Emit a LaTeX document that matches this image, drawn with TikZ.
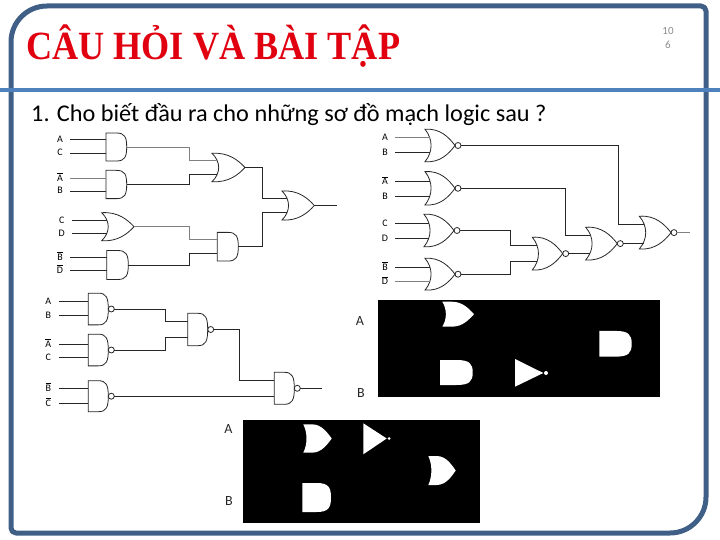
\documentclass[tikz,border=0pt]{standalone}
\usepackage{fontspec}
\setmainfont{Carlito}
\newfontfamily\titlefont{Liberation Serif}
\definecolor{framecol}{HTML}{3F5F87}
\definecolor{bandcol}{HTML}{4F81BD}
\definecolor{titlecol}{HTML}{E0000F}
\tikzset{
  pics/andg/.style 2 args={code={
    \path[pic actions] (0,-#2/2) -- (#1*.5,-#2/2) .. controls (#1*.9,-#2/2) and (#1,-#2*.36) .. (#1,0)
      .. controls (#1,#2*.36) and (#1*.9,#2/2) .. (#1*.5,#2/2) -- (0,#2/2) -- cycle;
    \coordinate (-i1) at (0,-#2/4);
    \coordinate (-i2) at (0,#2/4);
    \coordinate (-o) at (#1,0);
  }},
  pics/org/.style 2 args={code={
    \path[pic actions] (0,-#2/2) .. controls (#1*.5,-#2*.54) and (#1*.8,-#2*.25) .. (#1,0)
      .. controls (#1*.8,#2*.25) and (#1*.5,#2*.54) .. (0,#2/2)
      .. controls (#1*.27,#2*.2) and (#1*.27,-#2*.2) .. cycle;
    \coordinate (-i1) at (#1*.15,-#2/4);
    \coordinate (-i2) at (#1*.15,#2/4);
    \coordinate (-o) at (#1,0);
  }},
  pics/orblob/.style 2 args={code={
    \path[pic actions] (0,-#2/2) -- (#1*.3,-#2/2) .. controls (#1*.65,-#2/2) and (#1*.85,-#2*.2) .. (#1,0)
      .. controls (#1*.85,#2*.2) and (#1*.65,#2/2) .. (#1*.3,#2/2) -- (0,#2/2)
      .. controls (#1*.15,#2*.2) and (#1*.15,-#2*.2) .. cycle;
    \coordinate (-o) at (#1,0);
  }},
  pics/nandg/.style 2 args={code={
    \pic[gate] (-b) at (0,0) {andg={#1}{#2}};
    \draw[gate] (#1+3,0) circle (3);
    \coordinate (-i1) at (0,-#2/4);
    \coordinate (-i2) at (0,#2/4);
    \coordinate (-o) at (#1+6,0);
  }},
  pics/norg/.style 2 args={code={
    \pic[gate] (-b) at (0,0) {org={#1}{#2}};
    \draw[gate] (#1+3,0) circle (3);
    \coordinate (-i1) at (#1*.15,-#2/4);
    \coordinate (-i2) at (#1*.15,#2/4);
    \coordinate (-o) at (#1+6,0);
  }}
}
\begin{document}
\begin{tikzpicture}[x=1pt,y=-1pt,
    gate/.style={draw=black!85,line width=.8pt},
    wire/.style={draw=black!85,line width=.9pt},
    pale/.style={draw=black!50,line width=.7pt},
    solid white/.style={fill=white},
    lbl/.style={minimum width=20pt,inner sep=0pt,font=\fontsize{10}{10}\selectfont,text height=6pt,text depth=0pt},
    tag/.style={inner sep=0pt,font=\fontsize{14}{14}\selectfont,text=black!85},
    pageno/.style={inner sep=0pt,font=\fontsize{11}{11}\selectfont,text=black!45}]
  \useasboundingbox (0,0) rectangle (720,540);
  \draw[framecol,line width=5pt,line join=round] (11,300) [rounded corners=36pt] -- (11,6)
    [rounded corners=5pt] -- (706,6) [rounded corners=36pt] -- (706,533)
    [rounded corners=5pt] -- (11,533) -- (11,300);
  \fill[bandcol] (0,88) rectangle (720,92.5);
  \node[anchor=base west,inner sep=0pt,xscale=.905,transform shape,text=titlecol,font=\titlefont\bfseries\fontsize{40}{40}\selectfont] (heading) at (26,60) {CÂU HỎI VÀ BÀI TẬP};
  \node[anchor=base west,inner sep=0pt,font=\fontsize{24}{24}\selectfont,xscale=1.012,transform shape] (question) at (31,122) {1. Cho biết đầu ra cho những sơ đồ mạch logic sau ?};
  \node[pageno] (pnoa) at (668,31) {10};
  \node[pageno] (pnob) at (668,45) {6};

  \pic[gate] (a1) at (106,147) {andg={20.7}{28}};
  \pic[gate] (a2) at (106,184.5) {andg={20.7}{28.3}};
  \pic[gate] (o3) at (101.7,226.7) {org={32.3}{28}};
  \pic[gate] (a4) at (106.7,265) {andg={21.6}{29}};
  \pic[gate] (o1) at (212,167.5) {org={33}{28.4}};
  \pic[gate] (a3) at (217.3,246.7) {andg={21}{28.7}};
  \pic[gate] (o2) at (282,205.5) {org={32.3}{29}};
  \node[lbl] (ca) at (60,139.7) {A};
  \node[lbl] (cc) at (60,153) {C};
  \node[lbl] (cna) at (60,178.3) {$\overline{\mbox{A}}$};
  \node[lbl] (cb) at (60,191) {B};
  \node[lbl] (cc2) at (61.7,220.7) {C};
  \node[lbl] (cd) at (61.7,233.3) {D};
  \node[lbl] (cnb) at (60,257) {$\overline{\mbox{B}}$};
  \node[lbl] (cnd) at (60,270.3) {$\overline{\mbox{D}}$};
  \coordinate (j1) at (189.5,0);
  \coordinate (j2) at (262.3,0);
  \coordinate (z1) at (337.3,204);
  \draw[wire] (ca.east) -- (ca.east -| a1-i1);
  \draw[wire] (cc.east) -- (cc.east -| a1-i2);
  \draw[pale] (cna.east) -- (cna.east -| a2-i1);
  \draw[wire] (cb.east) -- (cb.east -| a2-i2);
  \draw[wire] (cc2.east) -- (cc2.east -| o3-i1);
  \draw[wire] (cd.east) -- (cd.east -| o3-i2);
  \draw[wire] (cnb.east) -- (cnb.east -| a4-i1);
  \draw[wire] (cnd.east) -- (cnd.east -| a4-i2);
  \draw[pale] (a1-o) -| (j1 |- o1-i1) -- (o1-i1);
  \draw[wire] (a2-o) -| (j1 |- o1-i2) -- (o1-i2);
  \draw[pale] (o3-o) -| (j1 |- a3-i1) -- (a3-i1);
  \draw[wire] (a4-o) -| (j1 |- a3-i2) -- (a3-i2);
  \draw[wire] (o1-o) -| (j2 |- o2-i1) -- (o2-i1);
  \draw[wire] (a3-o) -| (j2 |- o2-i2) -- (o2-i2);
  \draw[wire] (o2-o) -- (z1 |- o2-o);

  \pic (n1) at (425,145.5) {norg={30}{32.4}};
  \pic (n2) at (425,188.3) {norg={30}{33.3}};
  \pic (n3) at (424,230.5) {norg={30}{32.4}};
  \pic (n4) at (425,274.2) {norg={30}{31.7}};
  \pic (n5) at (532.3,253.6) {norg={30.4}{32.7}};
  \pic (n6) at (585.7,243.6) {norg={31.6}{32.7}};
  \pic (n7) at (639.3,232.6) {norg={31.7}{32.7}};
  \node[lbl] (da) at (385,137.3) {A};
  \node[lbl] (db) at (385,152.7) {B};
  \node[lbl] (dna) at (385,181.7) {$\overline{\mbox{A}}$};
  \node[lbl] (db2) at (385,196.7) {B};
  \node[lbl] (dc) at (385,223.3) {C};
  \node[lbl] (dd) at (385,238.3) {D};
  \node[lbl] (dnb) at (385,267.3) {$\overline{\mbox{B}}$};
  \node[lbl] (dnd) at (385,281.7) {$\overline{\mbox{D}}$};
  \coordinate (j3) at (618.3,0);
  \coordinate (j4) at (565.7,0);
  \coordinate (j5) at (510.5,0);
  \coordinate (z2) at (690,230.7);
  \draw[pale] (da.east) -- (da.east -| n1-i1);
  \draw[wire] (db.east) -- (db.east -| n1-i2);
  \draw[wire] (dna.east) -- (dna.east -| n2-i1);
  \draw[wire] (db2.east) -- (db2.east -| n2-i2);
  \draw[wire] (dc.east) -- (dc.east -| n3-i1);
  \draw[wire] (dd.east) -- (dd.east -| n3-i2);
  \draw[wire] (dnb.east) -- (dnb.east -| n4-i1);
  \draw[pale] (dnd.east) -- (dnd.east -| n4-i2);
  \draw[wire] (n1-o) -| (j3 |- n7-i1) -- (n7-i1);
  \draw[wire] (n2-o) -| (j4 |- n6-i1) -- (n6-i1);
  \draw[wire] (n3-o) -| (j5 |- n5-i1) -- (n5-i1);
  \draw[wire] (n4-o) -| (j5 |- n5-i2) -- (n5-i2);
  \draw[wire] (n5-o) -- (n5-o -| n6-i2);
  \draw[wire] (n6-o) -- (n6-o -| n7-i2);
  \draw[pale] (n7-o) -- (z2 |- n7-o);

  \pic (m1) at (88.3,309) {nandg={20}{31.7}};
  \pic (m2) at (88.3,350) {nandg={20}{31.7}};
  \pic (m3) at (88.3,396.2) {nandg={20}{31}};
  \pic (m4) at (187.7,329.5) {nandg={20}{32.4}};
  \pic (m5) at (274.3,388.3) {nandg={20}{32}};
  \node[lbl] (ea) at (48.3,301) {A};
  \node[lbl] (eb) at (48.3,315.7) {B};
  \node[lbl] (ena) at (48.3,344.3) {$\overline{\mbox{A}}$};
  \node[lbl] (ec) at (48.3,357.7) {C};
  \node[lbl] (enb) at (48.3,388.3) {$\overline{\mbox{B}}$};
  \node[lbl] (enc) at (48.3,403.3) {$\overline{\mbox{C}}$};
  \coordinate (j6) at (165.7,0);
  \coordinate (j7) at (239.3,0);
  \coordinate (z3) at (321.7,386.3);
  \draw[wire] (ea.east) -- (ea.east -| m1-i1);
  \draw[wire] (eb.east) -- (eb.east -| m1-i2);
  \draw[wire] (ena.east) -- (ena.east -| m2-i1);
  \draw[wire] (ec.east) -- (ec.east -| m2-i2);
  \draw[wire] (enb.east) -- (enb.east -| m3-i1);
  \draw[wire] (enc.east) -- (enc.east -| m3-i2);
  \draw[wire] (m1-o) -| (j6 |- m4-i1) -- (m4-i1);
  \draw[wire] (m2-o) -| (j6 |- m4-i2) -- (m4-i2);
  \draw[wire] (m4-o) -| (j7 |- m5-i1) -- (m5-i1);
  \draw[wire] (m3-o) -- (m3-o -| m5-i2);
  \draw[wire] (m5-o) -- (z3 |- m5-o);

  \fill[black] (378.3,300) rectangle (660,396.7);
  \pic[solid white] (pa) at (442.3,314.2) {orblob={31.7}{25}};
  \pic[solid white] (pb) at (599.3,343.8) {andg={32.4}{25.7}};
  \pic[solid white] (pc) at (440,372.5) {andg={32.7}{25}};
  \fill[white] (515,359) -- (543.3,373) -- (515,386.7) -- cycle;
  \fill[white] (546,373) circle (2);
  \node[tag] (qa) at (360,321) {A};
  \node[tag] (qb) at (361,393) {B};

  \fill[black] (243.3,420) rectangle (480,522.7);
  \pic[solid white] (ra) at (303.3,438.5) {orblob={28.4}{28.4}};
  \pic[solid white] (rb) at (428.3,470.5) {orblob={27.4}{29}};
  \pic[solid white] (rc) at (302.3,497.5) {andg={28.7}{29}};
  \fill[white] (363.3,423.3) -- (386.7,438.5) -- (363.3,454.3) -- cycle;
  \fill[white] (389,438.5) circle (1.5);
  \node[tag] (sa) at (228.3,429) {A};
  \node[tag] (sb) at (229,501) {B};
\end{tikzpicture}
\end{document}
